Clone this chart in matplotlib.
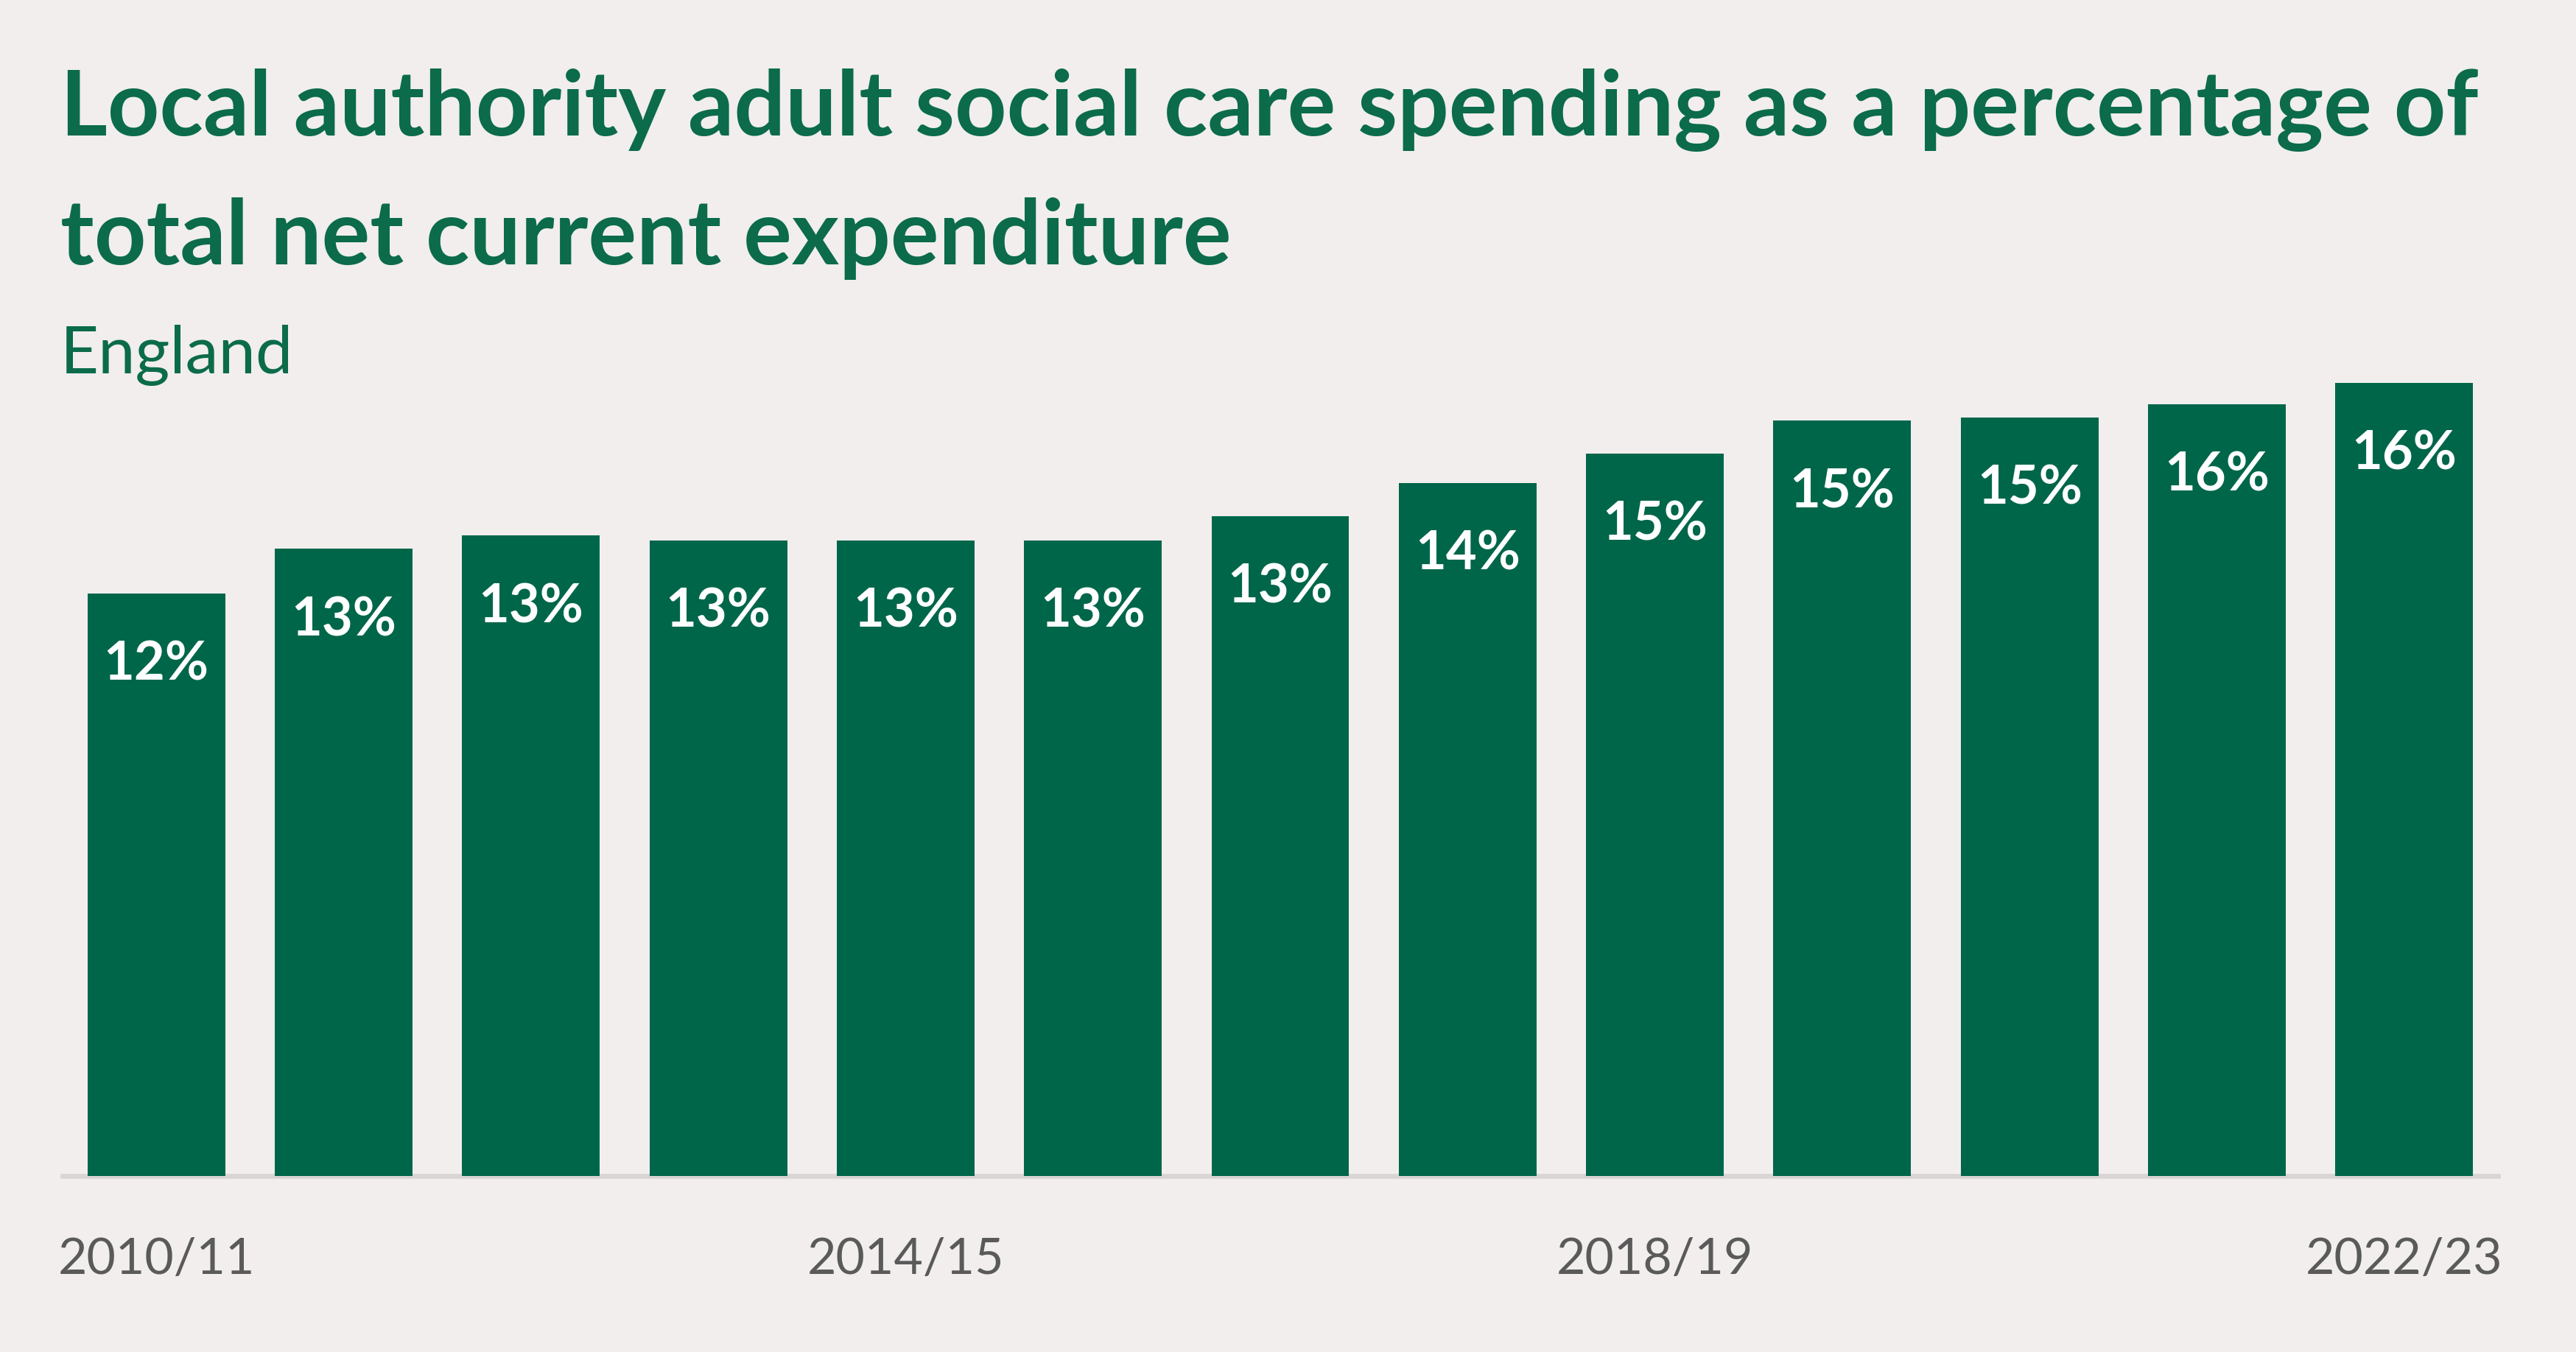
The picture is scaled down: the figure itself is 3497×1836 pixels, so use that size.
import matplotlib
matplotlib.use("Agg")
import matplotlib.pyplot as plt

years = ["2010/11", "2011/12", "2012/13", "2013/14", "2014/15", "2015/16", "2016/17",
         "2017/18", "2018/19", "2019/20", "2020/21", "2021/22", "2022/23"]
values = [11.83, 12.73, 13.0, 12.9, 12.9, 12.9, 13.4, 14.07, 14.67, 15.33, 15.4, 15.67, 16.1]
labels = ["12%", "13%", "13%", "13%", "13%", "13%", "13%", "14%", "15%", "15%", "15%", "16%", "16%"]
tick_idx = [0, 4, 8, 12]

BG = "#F1EEED"
GREEN = "#00664A"
TITLE_GREEN = "#0B6B4B"
GREY = "#5A5A5A"

W, H, DPI = 3498, 1836, 200
fig = plt.figure(figsize=(W / DPI, H / DPI), dpi=DPI, facecolor=BG)
ax = fig.add_axes([85 / W, 239 / H, (3391 - 85) / W, 18 * 66.9 / H])
ax.set_facecolor(BG)

x = list(range(len(years)))
ax.bar(x, values, width=0.735, color=GREEN, zorder=2)
ax.set_xlim(-0.5, 12.5)
ax.set_ylim(0, 18)

for xi, v, lab in zip(x, values, labels):
    ax.annotate(lab, (xi, v), xytext=(0, -35), textcoords="offset points",
                ha="center", va="center", color="white", fontsize=26,
                fontweight="bold", family="Lato", zorder=3)

for s in ["top", "right", "left"]:
    ax.spines[s].set_visible(False)
ax.spines["bottom"].set_color("#D8D5D4")
ax.spines["bottom"].set_linewidth(2.4)
ax.spines["bottom"].set_zorder(1)
ax.set_yticks([])
ax.set_xticks([x[i] for i in tick_idx])
ax.set_xticklabels([years[i] for i in tick_idx], fontsize=24.5, color=GREY, family="Lato")
ax.tick_params(axis="x", length=0, pad=30)

fig.text(82 / W, 1 - 150 / H, "Local authority adult social care spending as a percentage of",
         fontsize=44.3, fontweight="bold", color=TITLE_GREEN, family="Lato", va="center", ha="left")
fig.text(82 / W, 1 - 324 / H, "total net current expenditure",
         fontsize=44.3, fontweight="bold", color=TITLE_GREEN, family="Lato", va="center", ha="left")
fig.text(82 / W, 1 - 482 / H, "England",
         fontsize=32.5, color=TITLE_GREEN, family="Lato", va="center", ha="left")

fig.savefig("out.png", dpi=DPI, facecolor=BG)
